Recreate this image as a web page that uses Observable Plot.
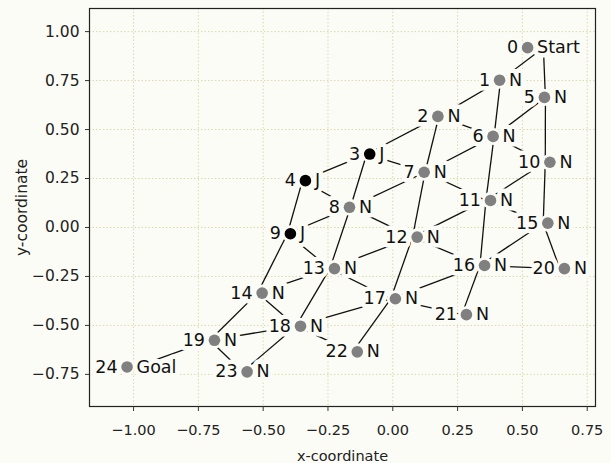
<!DOCTYPE html>
<html>
<head>
<meta charset="utf-8">
<script src="https://cdn.jsdelivr.net/npm/d3@7"></script>
<script src="https://cdn.jsdelivr.net/npm/@observablehq/plot@0.6"></script>
<style>
  html, body { margin: 0; padding: 0; background: #fcfcf6; }
</style>
</head>
<body>
<div id="chart"></div>
<script>
// ---- data ----
const nodeIds = [0, 1, 2, 3, 4, 5, 6, 7, 8, 9, 10, 11, 12, 13, 14, 15, 16, 17, 18, 19, 20, 21, 22, 23, 24];
const nodeX = [0.520, 0.412, 0.174, -0.089, -0.337, 0.585, 0.387, 0.121, -0.167, -0.395,
               0.606, 0.377, 0.094, -0.225, -0.504, 0.598, 0.354, 0.010, -0.356, -0.688,
               0.662, 0.284, -0.137, -0.562, -1.025];
const nodeY = [0.918, 0.752, 0.567, 0.375, 0.239, 0.664, 0.465, 0.282, 0.103, -0.032,
               0.333, 0.138, -0.049, -0.210, -0.335, 0.022, -0.194, -0.364, -0.504, -0.576,
               -0.210, -0.445, -0.635, -0.737, -0.712];
const nodeTypes = ["Start", "N", "N", "J", "J", "N", "N", "N", "N", "J",
                   "N", "N", "N", "N", "N", "N", "N", "N", "N", "N",
                   "N", "N", "N", "N", "Goal"];
const edgeFrom = [0, 0, 1, 1, 2, 2, 2, 3, 3, 3, 4, 4, 5, 5, 6, 6, 6, 7, 7, 7, 8, 8, 8, 9, 9,
                  10, 10, 11, 11, 11, 12, 12, 12, 13, 13, 13, 14, 14, 15, 15, 16, 16, 16, 17, 17, 17, 18, 18, 18, 19, 19];
const edgeTo   = [1, 5, 2, 6, 3, 6, 7, 4, 7, 8, 8, 9, 6, 10, 7, 10, 11, 8, 11, 12, 9, 12, 13, 13, 14,
                  11, 15, 12, 15, 16, 13, 16, 17, 14, 17, 18, 18, 19, 16, 20, 17, 20, 21, 18, 21, 22, 19, 22, 23, 23, 24];
const xTicks = [-1, -0.75, -0.5, -0.25, 0, 0.25, 0.5, 0.75];
const yTicks = [-0.75, -0.5, -0.25, 0, 0.25, 0.5, 0.75, 1];
const xDomain = [-1.17, 0.782];
const yDomain = [-0.914, 1.118];

// ---- derived ----
const W = 611, H = 463, mL = 89, mR = 16, mT = 8, mB = 57;
const bg = "#fcfcf6";
const labelFont = 17.5;
const nodes = nodeIds.map((id, i) => ({id: String(id), x: nodeX[i], y: nodeY[i], type: nodeTypes[i]}));

// edges join the centres of the label boxes ("id ● type")
const ctx = document.createElement("canvas").getContext("2d");
ctx.font = `${labelFont}px 'DejaVu Sans'`;
const pxPerUnit = (W - mL - mR) / (xDomain[1] - xDomain[0]);
const centerX = nodes.map(n => n.x + (ctx.measureText(n.type).width - ctx.measureText(n.id).width) / 2 / pxPerUnit);
const edges = edgeFrom.map((a, i) => {
  const b = edgeTo[i];
  return {x1: centerX[a], y1: nodes[a].y, x2: centerX[b], y2: nodes[b].y};
});

const gridStyle = {stroke: "#d9d9b0", strokeOpacity: 1, strokeDasharray: "1.5,2", strokeWidth: 1};
const fmt = d3.format(".2f");

const chart = Plot.plot({
  width: W, height: H,
  marginLeft: mL, marginRight: mR, marginTop: mT, marginBottom: mB,
  style: {background: bg, fontFamily: "'DejaVu Sans', sans-serif", fontSize: "14.5px", color: "#222"},
  x: {domain: xDomain},
  y: {domain: yDomain},
  marks: [
    Plot.gridX(xTicks, gridStyle),
    Plot.gridY(yTicks, gridStyle),
    Plot.link(edges, {x1: "x1", y1: "y1", x2: "x2", y2: "y2", stroke: "#111", strokeWidth: 1.3}),
    Plot.text(nodes, {x: "x", y: "y", text: "id", textAnchor: "end", dx: -9.5, fontSize: labelFont,
                      fill: "#111", stroke: bg, strokeWidth: 9}),
    Plot.text(nodes, {x: "x", y: "y", text: "type", textAnchor: "start", dx: 9.5, fontSize: labelFont,
                      fill: "#111", stroke: bg, strokeWidth: 9}),
    Plot.dot(nodes, {x: "x", y: "y", r: 8.5, fill: bg}),
    Plot.dot(nodes, {x: "x", y: "y", r: 5.8, fill: d => d.type === "J" ? "#000000" : "#808080"}),
    Plot.frame({stroke: "#222", strokeWidth: 1.2}),
    Plot.axisX(xTicks, {tickSize: 5, tickPadding: 13, tickFormat: fmt, stroke: "#333",
                        label: "x-coordinate", labelAnchor: "center", labelArrow: "none", fontSize: 14.5}),
    Plot.axisY(yTicks, {tickSize: 4, tickPadding: 6, tickFormat: fmt, stroke: "#333",
                        label: "y-coordinate", labelAnchor: "center", labelArrow: "none", labelOffset: 74, fontSize: 15.5})
  ]
});
document.getElementById("chart").append(chart);
</script>
</body>
</html>
